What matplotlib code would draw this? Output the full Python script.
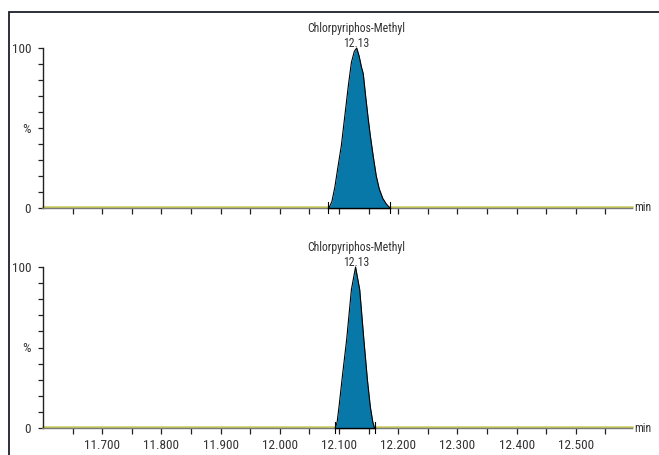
"""
chromatogram.py · Chlorpyriphos-Methyl 两通道色谱峰对比
"""
import matplotlib
matplotlib.use("Agg")
import matplotlib.pyplot as plt
from matplotlib.patches import Rectangle
from matplotlib import font_manager as fm
import numpy as np

# 窄体字优先，装了哪个用哪个
_have = {f.name for f in fm.fontManager.ttflist}
FONT = [f for f in ["Roboto Condensed", "Liberation Sans Narrow", "Liberation Sans"]
        if f in _have] + ["DejaVu Sans"]
plt.rcParams["font.family"] = FONT
NARROW = FONT[0] in ("Roboto Condensed", "Liberation Sans Narrow")
TICK_FS = 9.5 if NARROW else 8.2
ANN_FS = 8.5 if NARROW else 7.6

# ============================================================
# 1. 数据
# ============================================================
COMPOUND = "Chlorpyriphos-Methyl"
RT_LABEL = "12.13"
RT = 12.13

# 上通道：峰 12.083 ~ 12.186
top_time = [12.083, 12.088, 12.093, 12.098, 12.104, 12.110, 12.116, 12.121,
            12.126, 12.130, 12.134, 12.138, 12.141, 12.145, 12.149, 12.153,
            12.158, 12.163, 12.168, 12.174, 12.180, 12.186]
top_int = [0, 4, 13, 25, 39, 58, 77, 91,
           98, 100, 95, 88, 84, 70, 57, 45,
           32, 20, 12, 6, 2.5, 0]
top_bounds = [12.081, 12.186]

# 下通道：峰 12.094 ~ 12.160
bot_time = [12.094, 12.097, 12.100, 12.106, 12.113, 12.121, 12.128,
            12.135, 12.142, 12.148, 12.153, 12.157, 12.160]
bot_int = [0, 4, 13, 33, 55, 86, 100,
           86, 55, 30, 13, 4, 0]
bot_bounds = [12.093, 12.161]

x_major = [11.7, 11.8, 11.9, 12.0, 12.1, 12.2, 12.3, 12.4, 12.5]
x_labels = ["11.700", "11.800", "11.900", "12.000", "12.100",
            "12.200", "12.300", "12.400", "12.500"]
x_ticks = np.arange(11.65, 12.56, 0.05)
XLIM = (11.60, 12.595)

FILL = "#0878a8"
TRACE = "#c9cc5a"
AXIS_GRAY = "#7a7a7a"
TEXT = "#333333"

# ============================================================
# 2. 画图
# ============================================================
fig = plt.figure(figsize=(6.59, 4.55), dpi=100)

# 外框
fig.patches.append(Rectangle((9 / 659, -0.05), 1.1, 0.05 + 1 - 12 / 455,
                             transform=fig.transFigure, fill=False,
                             edgecolor="#1c1f2a", linewidth=1.3))

W = (632 - 43) / 659
ax_top = fig.add_axes([43 / 659, 1 - 208 / 455, W, 160 / 455])
ax_bot = fig.add_axes([43 / 659, 1 - 428 / 455, W, 161 / 455])


def draw_panel(ax, t, y, bounds, show_labels):
    ax.set_xlim(*XLIM)
    ax.set_ylim(0, 100)
    ax.patch.set_alpha(0)

    # 基线轨迹
    ax.plot(XLIM, [0.6, 0.6], color=TRACE, lw=1.8, clip_on=False, zorder=2)
    # 峰
    ax.fill_between(t, y, 0, color=FILL, lw=0, zorder=3, clip_on=False)
    ax.plot(t, y, color="black", lw=0.8, zorder=4, clip_on=False)
    # 积分基线 + 起止标记
    ax.plot(bounds, [0, 0], color="black", lw=1.0, zorder=4, clip_on=False)
    for b in bounds:
        ax.plot([b, b], [-3, 4], color="black", lw=0.8, zorder=4, clip_on=False)

    for s in ["top", "right"]:
        ax.spines[s].set_visible(False)
    ax.spines["left"].set_color("#222222")
    ax.spines["left"].set_linewidth(1.0)
    ax.spines["bottom"].set_color(AXIS_GRAY)
    ax.spines["bottom"].set_linewidth(1.0)

    ax.set_yticks([0, 50, 100])
    ax.set_yticklabels(["0", "%", "100"])
    ax.set_yticks(np.arange(10, 100, 10), minor=True)
    ax.tick_params(axis="y", which="both", length=3.5, width=0.9,
                   color="#222222", labelsize=TICK_FS, labelcolor=TEXT, pad=5)

    ax.set_xticks(x_ticks)
    if show_labels:
        lab = []
        for v in x_ticks:
            hit = [l for m, l in zip(x_major, x_labels) if abs(m - v) < 1e-6]
            lab.append(hit[0] if hit else "")
        ax.set_xticklabels(lab)
    else:
        ax.set_xticklabels([])
    ax.tick_params(axis="x", which="both", length=4, width=0.9,
                   color="#222222", labelsize=TICK_FS, labelcolor=TEXT, pad=4)

    # 峰标注
    ax.annotate(RT_LABEL, (RT, 100), xytext=(0, 4), textcoords="offset pixels",
                ha="center", va="center", fontsize=ANN_FS, color=TEXT,
                annotation_clip=False)
    ax.annotate(COMPOUND, (RT, 100), xytext=(0, 19), textcoords="offset pixels",
                ha="center", va="center", fontsize=ANN_FS, color=TEXT,
                annotation_clip=False)
    # 单位 min
    ax.annotate("min", (1.0, 0), xycoords="axes fraction", xytext=(2, 0),
                textcoords="offset pixels", ha="left", va="center",
                fontsize=ANN_FS, color=TEXT, annotation_clip=False)


draw_panel(ax_top, top_time, top_int, top_bounds, False)
draw_panel(ax_bot, bot_time, bot_int, bot_bounds, True)

plt.savefig("out.png", dpi=100)
plt.close()
